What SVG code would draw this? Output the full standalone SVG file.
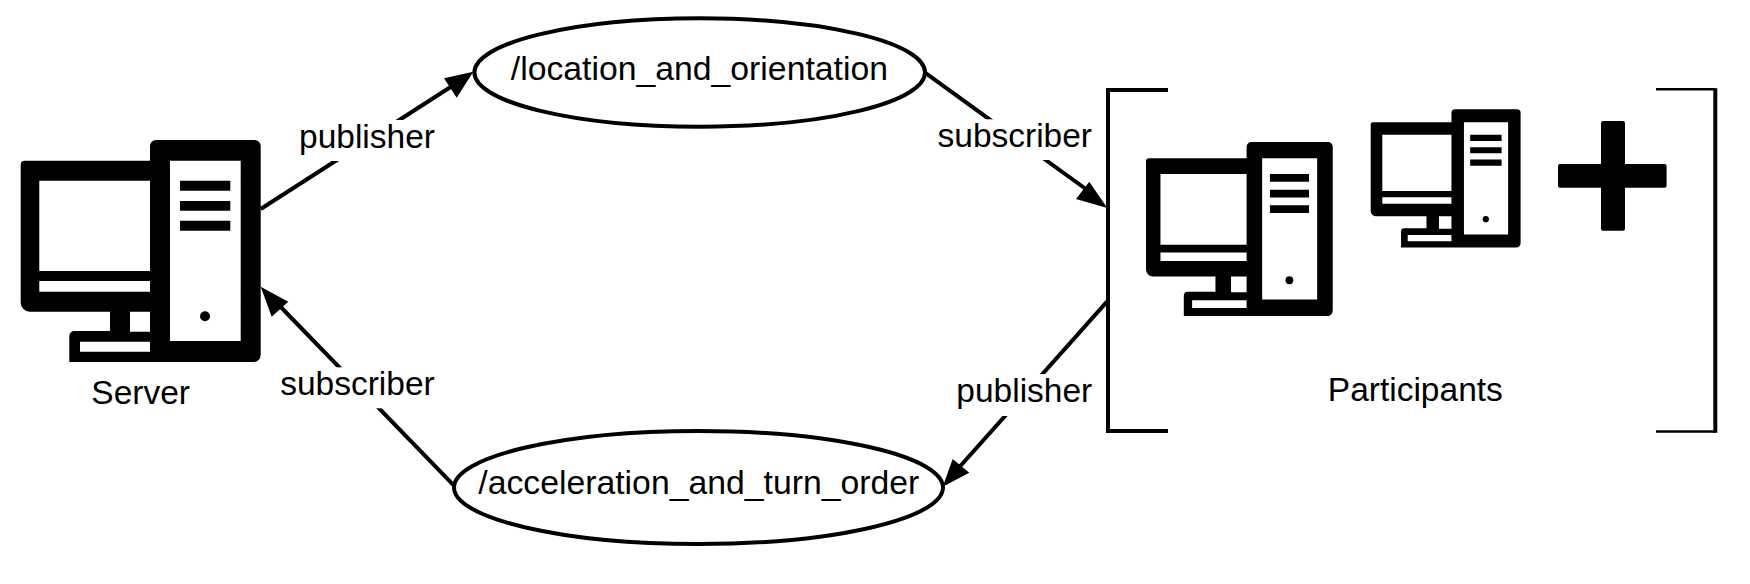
<svg xmlns="http://www.w3.org/2000/svg" width="1750" height="584" viewBox="0 0 1750 584">
<style>
text{font-family:"Liberation Sans",Arial,sans-serif;font-size:33.5px;fill:#000}
.topic{font-size:33.75px}
.conn{fill:none;stroke:#000;stroke-width:4}
.head{fill:#000}
.oval{fill:#fff;stroke:#000;stroke-width:4}
.brk{fill:none;stroke:#000;stroke-width:4}
.brk-thin{fill:none;stroke:#000;stroke-width:2.500}
.gap{fill:#fff}
</style>
<defs>
<g id="pc">
<path fill="#000" d="M135.300 0H234a6 6 0 0 1 6 6V215a7 7 0 0 1-7 7H48.600V196a5 5 0 0 1 5-5H89.300V171.700H9a9 9 0 0 1-9-9V24.700a4 4 0 0 1 4-4H129.300V6a6 6 0 0 1 6-6Z"/>
<path fill="#fff" d="M18.600 40.700H129.300V131H18.600ZM18.600 141H129.300V151.700H18.600ZM109.300 171.700H129.300V191.700H109.300ZM59.300 201.700H129.300V211.700H59.300ZM149.300 20.700H220V201H149.300Z"/>
<path fill="#000" d="M159.300 40.700H209.600V50.700H159.300ZM159.300 61H209.600V70.700H159.300ZM159.300 80.700H209.600V90.700H159.300Z"/>
<ellipse cx="184.300" cy="176.300" rx="5" ry="5" fill="#000"/>
</g>
</defs>
<g id="connectors">
<path class="conn" d="M260.700 209L460 81"/>
<path class="head" d="M473.300 71.700L444 78.300L456.700 97.700Z"/>
<path class="conn" d="M925 72.700L1090 192"/>
<path class="head" d="M1107.300 208L1089.300 181.700L1076 199Z"/>
<path class="conn" d="M1107 301.700L955 472"/>
<path class="head" d="M942.700 486.700L952.700 459L969.300 472.700Z"/>
<path class="conn" d="M455 486.600L272 298"/>
<path class="head" d="M260.700 286.700L288.300 301.700L271.700 316.700Z"/>
<rect class="gap" x="296" y="120" width="143" height="41"/>
<rect class="gap" x="935" y="119.300" width="160" height="40.700"/>
<rect class="gap" x="954" y="374" width="142" height="42"/>
<rect class="gap" x="277" y="367.300" width="160" height="41"/>
</g>
<g id="server">
<use href="#pc" transform="translate(20.700 140)"/>
<text x="91.300" y="403.600">Server</text>
</g>
<g id="topic-location">
<ellipse class="oval" cx="699.700" cy="72.500" rx="225.300" ry="54.200"/>
<text class="topic" x="510.800" y="79.800">/location_and_orientation</text>
</g>
<g id="topic-acceleration">
<ellipse class="oval" cx="698.500" cy="487.500" rx="244.500" ry="56.500"/>
<text class="topic" x="478.300" y="494.300">/acceleration_and_turn_order</text>
</g>
<g id="participants">
<path class="brk" d="M1168 90H1108V431H1168"/>
<path class="brk-thin" d="M1656 89.300H1715M1656 431.500H1715"/>
<path class="brk" d="M1715.300 88.300V432.700"/>
<use href="#pc" transform="translate(1146 142) scale(.778 .784)"/>
<use href="#pc" transform="translate(1370.700 109.300) scale(.6246 .623)"/>
<path fill="#000" d="M1603 121H1623a2 2 0 0 1 2 2V164H1664.600a2 2 0 0 1 2 2V185.700a2 2 0 0 1-2 2H1625V228.700a2 2 0 0 1-2 2H1603a2 2 0 0 1-2-2V187.700H1560a2 2 0 0 1-2-2V166a2 2 0 0 1 2-2H1601V123a2 2 0 0 1 2-2Z"/>
<text x="1327.800" y="400.500">Participants</text>
</g>
<g id="labels">
<text x="299" y="147.700">publisher</text>
<text x="937.500" y="147.300">subscriber</text>
<text x="956.300" y="401.700">publisher</text>
<text x="280.200" y="394.800">subscriber</text>
</g>
</svg>
